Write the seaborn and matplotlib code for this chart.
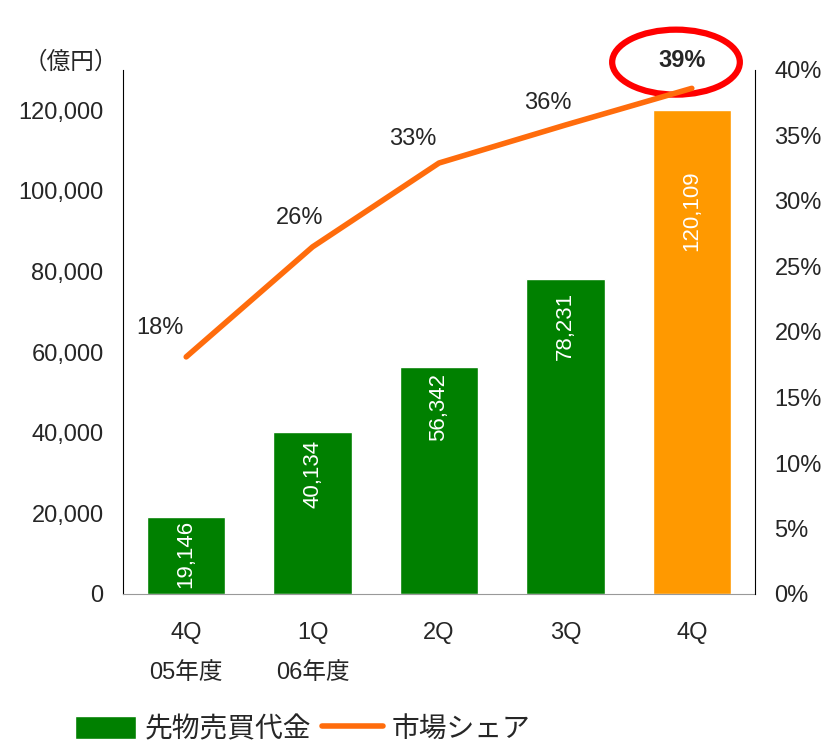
import numpy as np
import pandas as pd
import matplotlib
matplotlib.use("Agg")
import matplotlib.pyplot as plt
import seaborn as sns
from matplotlib.patches import Ellipse, Patch
from matplotlib.lines import Line2D
from matplotlib.ticker import FuncFormatter

sns.set_style("white")
plt.rcParams['font.family'] = ['Liberation Sans', 'Noto Sans CJK JP', 'DejaVu Sans']

# data
quarters = ["4Q\n05年度", "1Q\n06年度", "2Q", "3Q", "4Q"]
volume = [19146, 40134, 56342, 78231, 120109]
share = [18.1, 26.5, 32.9, 35.8, 38.6]
share_labels = ["18%", "26%", "33%", "36%", "39%"]

GREEN = "#008000"
ORANGE_BAR = "#FF9900"
ORANGE_LINE = "#FF6C0C"
CJK = ['Noto Sans CJK JP', 'DejaVu Sans']

# label placement tweaks (layout only)
bar_lbl_drop = [800, 2000, 1500, 3300, 15000]
pct_lbl_dx = [-0.21, -0.10, -0.21, -0.14, -0.08]
pct_lbl_dy = [2.2, 2.2, 1.8, 1.7, 2.15]

df = pd.DataFrame({"q": quarters, "vol": volume, "share": share})

fig = plt.figure(figsize=(8.28, 7.46), dpi=100)
ax = fig.add_axes([123 / 828, 1 - 594 / 746, 632 / 828, 524 / 746])

colors = [GREEN, GREEN, GREEN, GREEN, ORANGE_BAR]
sns.barplot(data=df, x="q", y="vol", hue="q", palette=colors, legend=False,
            width=0.62, ax=ax, saturation=1)
ax.set_ylim(0, 130000)
ax.set_xlim(-0.5, 4.5)
ax.set_yticks(np.arange(0, 130001, 20000))
ax.yaxis.set_major_formatter(FuncFormatter(lambda v, p: f"{int(v):,}"))
ax.set_xlabel("")
ax.set_ylabel("")
ax.tick_params(axis="y", labelsize=17, length=0, pad=14)
ax.tick_params(axis="x", labelsize=17, length=0, pad=20)
for lbl in ax.get_xticklabels():
    lbl.set_linespacing(2.05)
ax.spines["top"].set_visible(False)
ax.spines["right"].set_visible(False)
ax.spines["left"].set_color("black")
ax.spines["bottom"].set_color("#999999")

# value labels inside bars
for i, v in enumerate(volume):
    ax.text(i, v - bar_lbl_drop[i], f"{v:,}", rotation=90, ha="center", va="top",
            color="white", fontsize=16)

ax.text((24 - 123) / 632, (594 - 62) / 524, "（億円）", transform=ax.transAxes,
        ha="left", va="center", fontsize=17, family=CJK)

# share line on right axis
ax2 = ax.twinx()
sns.lineplot(x=np.arange(len(share)), y=share, color=ORANGE_LINE, linewidth=4,
             ax=ax2)
ax2.set_ylim(0, 40)
ax2.set_yticks(np.arange(0, 41, 5))
ax2.yaxis.set_major_formatter(FuncFormatter(lambda v, p: f"{int(v)}%"))
ax2.tick_params(axis="y", labelsize=17, length=0, pad=14)
ax2.spines["top"].set_visible(False)
ax2.spines["left"].set_visible(False)
ax2.spines["bottom"].set_visible(False)
ax2.spines["right"].set_color("black")

for i, (s, t) in enumerate(zip(share, share_labels)):
    ax2.text(i + pct_lbl_dx[i], s + pct_lbl_dy[i], t, ha="center", va="center",
             fontsize=17, fontweight="bold" if i == 4 else "normal")

ell = Ellipse((3.875, 40.6), width=1.01, height=4.96, fill=False,
              edgecolor="#FF0000", linewidth=4.5, clip_on=False)
ax2.add_patch(ell)

handles = [Patch(facecolor=GREEN, label="先物売買代金"),
           Line2D([0], [0], color=ORANGE_LINE, linewidth=4, label="市場シェア")]
fig.legend(handles=handles, loc="center left", bbox_to_anchor=(75 / 828, 17 / 746),
           ncol=2, frameon=False, handlelength=2.2, handleheight=0.9,
           handletextpad=0.3, columnspacing=0.4, borderpad=0, borderaxespad=0,
           prop={'family': CJK, 'size': 20})

fig.savefig("out.png", dpi=100)
